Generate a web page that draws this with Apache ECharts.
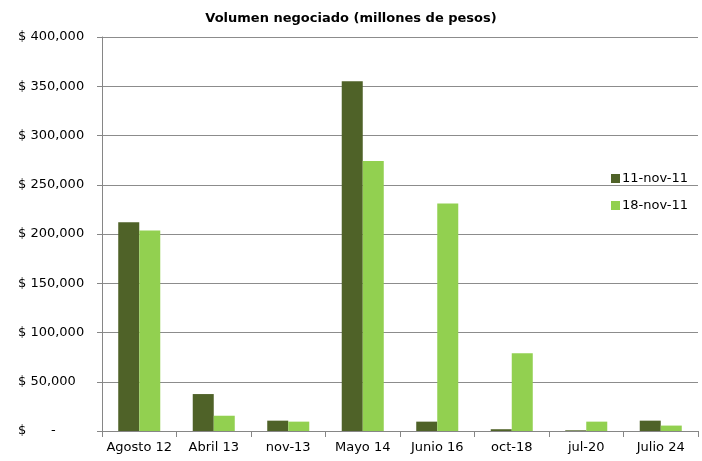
<!DOCTYPE html>
<html>
<head>
<meta charset="utf-8">
<script src="https://cdn.jsdelivr.net/npm/echarts@6/dist/echarts.min.js"></script>
<style>
html,body{margin:0;padding:0;background:#fff;}
#chart{width:702px;height:461px;}
</style>
</head>
<body>
<div id="chart"></div>
<script>
const categories = ['Agosto 12', 'Abril 13', 'nov-13', 'Mayo 14', 'Junio 16', 'oct-18', 'jul-20', 'Julio 24'];
const seriesNames = ['11-nov-11', '18-nov-11'];
const values1 = [212000, 37500, 10500, 355000, 9500, 1800, 700, 10500];
const values2 = [203500, 15500, 9500, 274000, 231000, 79000, 9500, 5500];
const yTicks = [0, 50000, 100000, 150000, 200000, 250000, 300000, 350000, 400000];

const font = 'DejaVu Sans, Verdana, sans-serif';
const chart = echarts.init(document.getElementById('chart'), null, {renderer: 'canvas'});
chart.setOption({
  animation: false,
  backgroundColor: '#ffffff',
  title: {
    text: 'Volumen negociado (millones de pesos)',
    left: 'center',
    top: 7,
    textStyle: {fontFamily: font, fontSize: 13, fontWeight: 'bold', color: '#000'}
  },
  legend: {
    orient: 'vertical',
    left: 606,
    top: 167,
    itemWidth: 9,
    itemHeight: 9,
    itemGap: 14,
    icon: 'rect',
    textStyle: {fontFamily: font, fontSize: 13, color: '#000', padding: [0, 0, 0, -3]},
    data: seriesNames
  },
  grid: {left: 102, right: 4, top: 37, bottom: 30, containLabel: false},
  xAxis: {
    type: 'category',
    data: categories,
    axisLine: {lineStyle: {color: '#868686', width: 1}},
    axisTick: {show: true, length: 6, lineStyle: {color: '#868686'}},
    axisLabel: {fontFamily: font, fontSize: 13, color: '#000', margin: 10, interval: 0}
  },
  yAxis: {
    type: 'value',
    min: yTicks[0],
    max: yTicks[yTicks.length - 1],
    interval: yTicks[1] - yTicks[0],
    axisLine: {show: true, lineStyle: {color: '#868686', width: 1}},
    axisTick: {show: true, length: 5, lineStyle: {color: '#868686'}},
    splitLine: {show: true, lineStyle: {color: '#8c8c8c', width: 1}},
    axisLabel: {
      fontFamily: font, fontSize: 13, color: '#000',
      align: 'left', margin: 84,
      formatter: function (v) {
        if (v === 0) return '$      -';
        return '$ ' + v.toLocaleString('en-US');
      }
    }
  },
  series: [
    {name: seriesNames[0], type: 'bar', data: values1, itemStyle: {color: '#4F6228'}, barGap: '0%', barCategoryGap: '43.6%'},
    {name: seriesNames[1], type: 'bar', data: values2, itemStyle: {color: '#92D050'}, barGap: '0%', barCategoryGap: '43.6%'}
  ]
});
</script>
</body>
</html>
